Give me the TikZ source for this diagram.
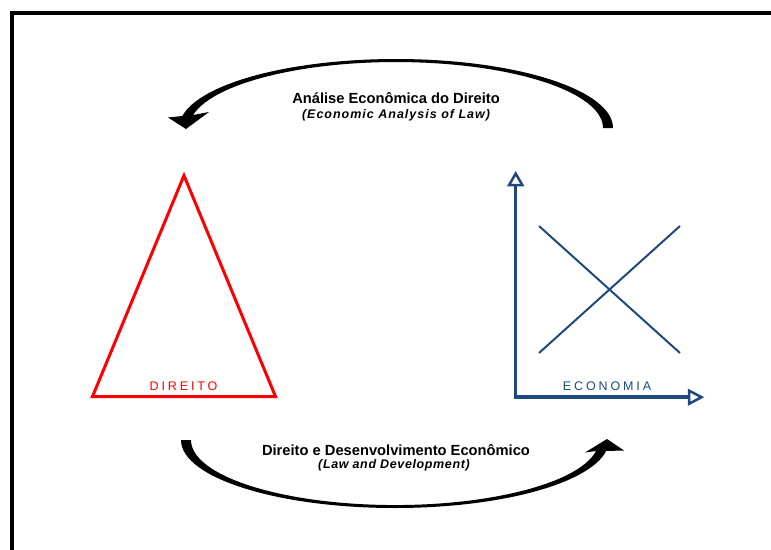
\documentclass[tikz,border=0pt]{standalone}
\usepackage{fontspec}
\setmainfont{Liberation Sans}
\definecolor{econblue}{RGB}{31,73,125}
\definecolor{lawred}{RGB}{255,0,0}
\begin{document}
\begin{tikzpicture}[x=1pt,y=-1pt,
  headline/.style={font=\fontsize{14.7}{16}\selectfont\bfseries, anchor=base, inner sep=0pt},
  subline/.style={font=\fontsize{12.5}{14}\selectfont\bfseries\itshape\addfontfeatures{LetterSpace=5}, anchor=base, inner sep=0pt},
  spaced/.style={font=\fontsize{12.5}{14}\selectfont\addfontfeatures{LetterSpace=23}, anchor=base, inner sep=0pt},
  flowarrow/.style={fill=black},
  axisline/.style={draw=econblue, line width=3.5pt, line join=miter},
  axishead/.style={draw=econblue, fill=white, line width=2.5pt, line join=miter},
  curve/.style={draw=econblue, line width=2pt},
]
\useasboundingbox (0,0) rectangle (771,549);
\clip (0,0) rectangle (771,549);

% outer frame (runs past the page edges)
\draw[line width=4pt] (12,13) rectangle (820,620);

% --- Direito: red triangle ---
\coordinate (apex) at (184,175.5);
\coordinate (bl) at (92.5,396.5);
\coordinate (br) at (275.5,396.5);
\draw[lawred, line width=3pt, line join=miter] (apex) -- (br) -- (bl) -- cycle;
\node[spaced, text=lawred] (direito) at (183.5,390) {DIREITO};

% --- Economia: axes with crossing curves ---
\coordinate (origin) at (515.7,397.2);
\coordinate (ytop) at (515.7,185);
\coordinate (xend) at (689,397.2);
\draw[axisline] (ytop) -- (origin) -- (xend);
\draw[axishead] (515.7,173.5) -- (522.3,185) -- (509.1,185) -- cycle;
\draw[axishead] (701.5,397.2) -- (689,390.6) -- (689,403.8) -- cycle;
\coordinate (d1) at (539,226);
\coordinate (d2) at (680,353);
\coordinate (s1) at (539,353);
\coordinate (s2) at (680,226);
\draw[curve] (d1) -- (d2);
\draw[curve] (s1) -- (s2);
\node[spaced, text=econblue] (economia) at (607,390) {ECONOMIA};

% --- upper curved arrow: Economia -> Direito ---
\fill[flowarrow] (613,128)
  arc[start angle=0, end angle=-170, x radius=217, y radius=69]
  -- (168,117.5) -- (186,129) -- (209,112)
  -- (193.1,115)
  arc[start angle=-168.6, end angle=0, x radius=207, y radius=66]
  -- cycle;
\node[headline] (ead) at (396,103) {Análise Econômica do Direito};
\node[subline] (eal) at (396,118)
  {\addfontfeatures{LetterSpace=8}(Economic Analysis of Law)};

% --- lower curved arrow: Direito -> Economia ---
\fill[flowarrow] (181,440)
  arc[start angle=180, end angle=9.3, x radius=214, y radius=68]
  -- (624,450.5) -- (607,439) -- (585,452.5)
  -- (596.1,451)
  arc[start angle=9.7, end angle=180, x radius=204, y radius=65]
  -- cycle;
\node[headline] (dde) at (396,455) {Direito e Desenvolvimento Econômico};
\node[subline] (lad) at (394,468) {(Law and Development)};
\end{tikzpicture}
\end{document}
